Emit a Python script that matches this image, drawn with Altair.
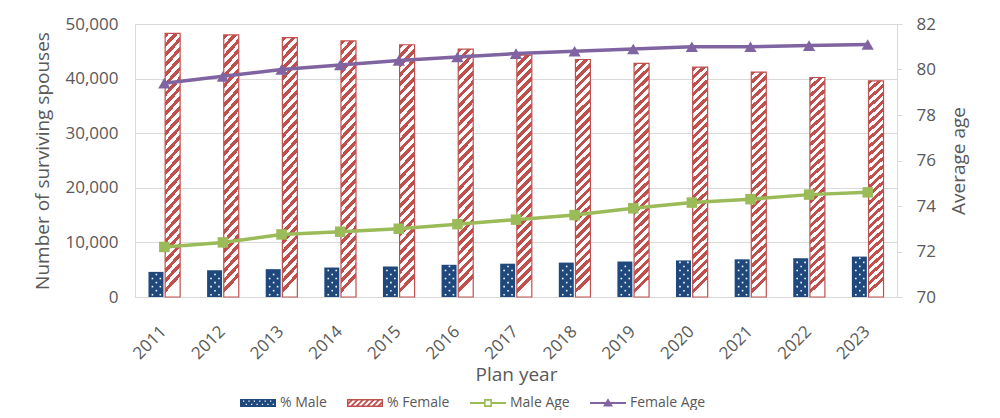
import altair as alt
import pandas as pd

# ---------------- data ----------------
years = [str(y) for y in range(2011, 2024)]
male_count = [4600, 4900, 5100, 5400, 5600, 5900, 6100, 6300, 6500, 6700, 6900, 7100, 7400]
female_count = [48300, 48000, 47500, 46900, 46200, 45400, 44300, 43500, 42800, 42100, 41200, 40200, 39600]
male_age = [72.2, 72.4, 72.75, 72.87, 73.0, 73.2, 73.4, 73.6, 73.9, 74.15, 74.3, 74.5, 74.6]
female_age = [79.4, 79.7, 80.0, 80.2, 80.4, 80.55, 80.7, 80.8, 80.9, 81.0, 81.0, 81.05, 81.1]
series_names = ["% Male", "% Female", "Male Age", "Female Age"]
left_ticks = [0, 10000, 20000, 30000, 40000, 50000]
right_ticks = [70, 72, 74, 76, 78, 80, 82]

# ---------------- style ----------------
FONT = "Open Sans"
TXT = "#595959"
NAVY = "#1f497d"
RED = "#c0504d"
GREEN = "#9bbb59"
PURPLE = "#8064a2"
GRID = "#d9d9d9"
W, H = 762, 273

bars_df = pd.DataFrame({
    "year": years * 2,
    "series": ["% Male"] * len(years) + ["% Female"] * len(years),
    "count": male_count + female_count,
})
age_df = pd.DataFrame({"year": years, "male_age": male_age, "female_age": female_age})

# diagonal hatch gradient for female bars
N = 27
stops = []
for k in range(N):
    a, b, c = k / N, (k + 0.5) / N, (k + 1) / N
    stops += [{"offset": a, "color": RED}, {"offset": b, "color": RED},
              {"offset": b, "color": "white"}, {"offset": c, "color": "white"}]
hatch = {"gradient": "linear", "x1": 0, "y1": 0, "x2": 0.0625, "y2": 1, "stops": stops}


# ---------------- legend symbol paths ----------------
def area(poly):
    s = 0
    for i in range(len(poly)):
        x1, y1 = poly[i]
        x2, y2 = poly[(i + 1) % len(poly)]
        s += x1 * y2 - x2 * y1
    return s


def sub(poly, hole=False):
    if (area(poly) > 0) == hole:
        poly = poly[::-1]
    pts = " ".join(f"{'M' if i == 0 else 'L'}{x:.3f},{y:.3f}" for i, (x, y) in enumerate(poly))
    return pts + "Z"


def rect(x0, y0, x1, y1):
    return [(x0, y0), (x1, y0), (x1, y1), (x0, y1)]


def clip_x(poly, lo, hi):
    def clip(pts, inside, inter):
        out = []
        for i in range(len(pts)):
            cur, prev = pts[i], pts[i - 1]
            if inside(cur):
                if not inside(prev):
                    out.append(inter(prev, cur))
                out.append(cur)
            elif inside(prev):
                out.append(inter(prev, cur))
        return out

    def ix(xv):
        def f(p, q):
            t = (xv - p[0]) / (q[0] - p[0])
            return (xv, p[1] + t * (q[1] - p[1]))
        return f
    poly = clip(poly, lambda p: p[0] >= lo, ix(lo))
    if poly:
        poly = clip(poly, lambda p: p[0] <= hi, ix(hi))
    return poly


# % Male: navy block with dotted holes
p_male = sub(rect(-1, -0.22, 1, 0.22))
for r, yy in enumerate([-0.1, 0.08]):
    xs = [-0.8 + 0.3 * i + (0.15 if r else 0) for i in range(6)]
    for xx in xs:
        if xx < 0.9:
            p_male += sub(rect(xx - 0.035, yy - 0.035, xx + 0.035, yy + 0.035), hole=True)

# % Female: outlined box with diagonal hatch
p_female = sub(rect(-1, -0.22, 1, 0.22)) + sub(rect(-0.92, -0.14, 0.92, 0.14), hole=True)
x0 = -1.4
while x0 < 0.92:
    para = [(x0, 0.14), (x0 + 0.28, -0.14), (x0 + 0.42, -0.14), (x0 + 0.14, 0.14)]
    cp = clip_x(para, -0.92, 0.92)
    if len(cp) >= 3:
        p_female += sub(cp)
    x0 += 0.3

# Male Age: line with hollow square
p_mage = (sub(rect(-1, -0.06, -0.22, 0.06)) + sub(rect(0.22, -0.06, 1, 0.06))
          + sub(rect(-0.22, -0.22, 0.22, 0.22)) + sub(rect(-0.13, -0.13, 0.13, 0.13), hole=True))

# Female Age: line with filled triangle
p_fage = sub(rect(-1, -0.06, 1, 0.06)) + sub([(0, -0.26), (0.28, 0.2), (-0.28, 0.2)])

# ---------------- encodings ----------------
x_enc = alt.X(
    "year:O",
    scale=alt.Scale(paddingInner=0.46, paddingOuter=0.23),
    axis=alt.Axis(title="Plan year", labelAngle=-45, ticks=False, domainColor=GRID,
                  labelFontSize=17, titleFontSize=19, labelPadding=26, labelOffset=-6,
                  titlePadding=4),
)
xoff_bar = alt.XOffset("series:N", scale=alt.Scale(domain=["% Male", "% Female"], paddingInner=0.1))
y_left_scale = alt.Scale(domain=[0, 50000], nice=False)
y_left_axis = alt.Axis(title="Number of surviving spouses", values=left_ticks, format=",.0f",
                       grid=True, gridColor=GRID, ticks=False, domainColor=GRID,
                       labelFontSize=17, titleFontSize=19, labelPadding=17, titlePadding=12)

base_bars = alt.Chart(bars_df)
female_bars = base_bars.transform_filter("datum.series == '% Female'").mark_bar(
    fill=hatch, stroke=RED, strokeWidth=1.2
).encode(x=x_enc, xOffset=xoff_bar, y=alt.Y("count:Q", scale=y_left_scale, axis=y_left_axis))

male_bars = base_bars.transform_filter("datum.series == '% Male'").mark_bar(
    fill=NAVY
).encode(x=x_enc, xOffset=xoff_bar, y=alt.Y("count:Q", scale=y_left_scale, axis=y_left_axis))

dots = base_bars.transform_filter("datum.series == '% Male'").transform_calculate(
    dy="sequence(420, datum.count - 250, 740)"
).transform_flatten(["dy"]).transform_calculate(
    col="floor(datum.dy / 740) % 2 == 0 ? ['c1', 'c3'] : ['c2']"
).transform_flatten(["col"]).mark_square(size=2.5, color="white", opacity=1).encode(
    x=x_enc,
    xOffset=alt.XOffset("col:N", scale=alt.Scale(type="point", domain=[f"c{i}" for i in range(9)], padding=0)),
    y=alt.Y("dy:Q", scale=y_left_scale, axis=y_left_axis),
)

bars_group = alt.layer(alt.layer(female_bars, male_bars), dots).resolve_scale(xOffset="independent")

y_right_scale = alt.Scale(domain=[70, 82], nice=False)
y_right_axis = alt.Axis(title="Average age", orient="right", values=right_ticks, grid=False,
                        domainColor=GRID, tickColor=GRID, tickSize=5,
                        labelFontSize=17, titleFontSize=19, labelPadding=14, titlePadding=14,
                        titleAngle=270, titleBaseline="top")

base_age = alt.Chart(age_df)
male_line = base_age.mark_line(
    color=GREEN, strokeWidth=3.5,
    point=alt.OverlayMarkDef(shape="square", size=110, filled=True, color=GREEN, opacity=1),
).encode(x=x_enc, y=alt.Y("male_age:Q", scale=y_right_scale, axis=y_right_axis))
female_line = base_age.mark_line(
    color=PURPLE, strokeWidth=3.5,
    point=alt.OverlayMarkDef(shape="triangle-up", size=150, filled=True, color=PURPLE, opacity=1),
).encode(x=x_enc, y=alt.Y("female_age:Q", scale=y_right_scale, axis=y_right_axis))

legend_layer = base_bars.transform_filter("false").mark_point(filled=True, opacity=1, size=1296).encode(
    color=alt.Color("series:N", scale=alt.Scale(domain=series_names, range=[NAVY, RED, GREEN, PURPLE]),
                    legend=alt.Legend(title=None)),
    shape=alt.Shape("series:N", scale=alt.Scale(domain=series_names, range=[p_male, p_female, p_mage, p_fage]),
                    legend=alt.Legend(title=None)),
)

lines_group = alt.layer(male_line, female_line, legend_layer)

chart = alt.layer(bars_group, lines_group).resolve_scale(y="independent").properties(
    width=W, height=H,
    padding={"left": 25, "top": 7, "right": 5, "bottom": 0},
).configure_view(stroke=None).configure_axis(
    labelFont=FONT, titleFont=FONT, labelColor=TXT, titleColor=TXT, titleFontWeight="normal",
).configure_legend(
    orient="none", legendX=105, legendY=361, direction="horizontal",
    symbolSize=1296, symbolStrokeWidth=0, labelFont=FONT, labelFontSize=14, labelColor=TXT,
    labelOffset=4, columnPadding=20,
)

chart.save("out.html", embed_options={"renderer": "svg", "actions": False})
